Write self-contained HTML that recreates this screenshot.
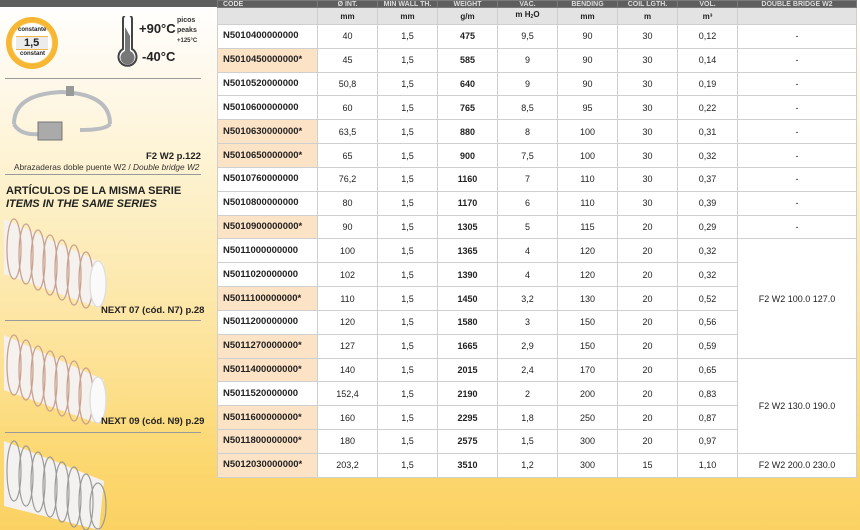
<!DOCTYPE html>
<html><head><meta charset="utf-8"><style>
*{margin:0;padding:0;box-sizing:border-box}
body{width:860px;height:530px;overflow:hidden;position:relative;font-family:"Liberation Sans",sans-serif;color:#222;
background:linear-gradient(180deg,#ffffff 0px,#fffaf0 60px,#fdf0c8 200px,#fde39a 350px,#fcd870 460px,#fbd163 530px)}
.topbar{position:absolute;left:0;top:0;width:217px;height:7px;background:#5e5e5e}
table{position:absolute;left:217px;top:0;border-collapse:collapse;table-layout:fixed;width:639px;background:#fff;font-size:9px}
td{border:1px solid #cfcfcf;text-align:center;padding:0;overflow:hidden;white-space:nowrap;line-height:10px}
tr.h td{height:7px;max-height:7px;background:#5e5e5e;color:#ddd;font-weight:bold;font-size:7px;line-height:5px;vertical-align:bottom;border-color:#7a7a7a}
tr.u td{height:17px;background:#e3e3e3;font-weight:bold;font-size:8px;line-height:9px}
tr.d td{height:23.84px}
td.c{text-align:left;padding-left:5px;font-weight:bold;font-size:9.5px}
td.p{background:#fde3c6}
td.b{font-weight:bold}
.sep{position:absolute;left:5px;width:196px;height:1px;background:#9a9a9a}
.t{position:absolute;white-space:nowrap}
</style></head><body>
<div class="topbar"></div>
<table>
<colgroup><col style="width:100px"><col style="width:60px"><col style="width:60px"><col style="width:60px"><col style="width:60px"><col style="width:60px"><col style="width:60px"><col style="width:60px"><col style="width:119px"></colgroup>
<tr class="h"><td style="text-align:left;padding-left:5px">CODE</td><td>Ø INT.</td><td>MIN WALL TH.</td><td>WEIGHT</td><td>VAC.</td><td>BENDING</td><td>COIL LGTH.</td><td>VOL.</td><td>DOUBLE BRIDGE W2</td></tr>
<tr class="u"><td></td><td>mm</td><td>mm</td><td>g/m</td><td>m H<span style="font-size:5px;vertical-align:-1px">2</span>O</td><td>mm</td><td>m</td><td>m³</td><td></td></tr>
<tr class="d"><td class="c">N5010400000000</td><td>40</td><td>1,5</td><td class="b">475</td><td>9,5</td><td>90</td><td>30</td><td>0,12</td><td>-</td></tr>
<tr class="d"><td class="c p">N5010450000000*</td><td>45</td><td>1,5</td><td class="b">585</td><td>9</td><td>90</td><td>30</td><td>0,14</td><td>-</td></tr>
<tr class="d"><td class="c">N5010520000000</td><td>50,8</td><td>1,5</td><td class="b">640</td><td>9</td><td>90</td><td>30</td><td>0,19</td><td>-</td></tr>
<tr class="d"><td class="c">N5010600000000</td><td>60</td><td>1,5</td><td class="b">765</td><td>8,5</td><td>95</td><td>30</td><td>0,22</td><td>-</td></tr>
<tr class="d"><td class="c p">N5010630000000*</td><td>63,5</td><td>1,5</td><td class="b">880</td><td>8</td><td>100</td><td>30</td><td>0,31</td><td>-</td></tr>
<tr class="d"><td class="c p">N5010650000000*</td><td>65</td><td>1,5</td><td class="b">900</td><td>7,5</td><td>100</td><td>30</td><td>0,32</td><td>-</td></tr>
<tr class="d"><td class="c">N5010760000000</td><td>76,2</td><td>1,5</td><td class="b">1160</td><td>7</td><td>110</td><td>30</td><td>0,37</td><td>-</td></tr>
<tr class="d"><td class="c">N5010800000000</td><td>80</td><td>1,5</td><td class="b">1170</td><td>6</td><td>110</td><td>30</td><td>0,39</td><td>-</td></tr>
<tr class="d"><td class="c p">N5010900000000*</td><td>90</td><td>1,5</td><td class="b">1305</td><td>5</td><td>115</td><td>20</td><td>0,29</td><td>-</td></tr>
<tr class="d"><td class="c">N5011000000000</td><td>100</td><td>1,5</td><td class="b">1365</td><td>4</td><td>120</td><td>20</td><td>0,32</td><td rowspan="5">F2 W2 100.0 127.0</td></tr>
<tr class="d"><td class="c">N5011020000000</td><td>102</td><td>1,5</td><td class="b">1390</td><td>4</td><td>120</td><td>20</td><td>0,32</td></tr>
<tr class="d"><td class="c p">N5011100000000*</td><td>110</td><td>1,5</td><td class="b">1450</td><td>3,2</td><td>130</td><td>20</td><td>0,52</td></tr>
<tr class="d"><td class="c">N5011200000000</td><td>120</td><td>1,5</td><td class="b">1580</td><td>3</td><td>150</td><td>20</td><td>0,56</td></tr>
<tr class="d"><td class="c p">N5011270000000*</td><td>127</td><td>1,5</td><td class="b">1665</td><td>2,9</td><td>150</td><td>20</td><td>0,59</td></tr>
<tr class="d"><td class="c p">N5011400000000*</td><td>140</td><td>1,5</td><td class="b">2015</td><td>2,4</td><td>170</td><td>20</td><td>0,65</td><td rowspan="4">F2 W2 130.0 190.0</td></tr>
<tr class="d"><td class="c">N5011520000000</td><td>152,4</td><td>1,5</td><td class="b">2190</td><td>2</td><td>200</td><td>20</td><td>0,83</td></tr>
<tr class="d"><td class="c p">N5011600000000*</td><td>160</td><td>1,5</td><td class="b">2295</td><td>1,8</td><td>250</td><td>20</td><td>0,87</td></tr>
<tr class="d"><td class="c p">N5011800000000*</td><td>180</td><td>1,5</td><td class="b">2575</td><td>1,5</td><td>300</td><td>20</td><td>0,97</td></tr>
<tr class="d"><td class="c p">N5012030000000*</td><td>203,2</td><td>1,5</td><td class="b">3510</td><td>1,2</td><td>300</td><td>15</td><td>1,10</td><td>F2 W2 200.0 230.0</td></tr>
</table>

<div style="position:absolute;left:6px;top:17px;width:52px;height:52px;border-radius:50%;background:#f8b733"></div>
<div style="position:absolute;left:11px;top:22px;width:42px;height:42px;border-radius:50%;background:#fff;border:1px solid #f5c65a"></div>
<div class="t" style="left:18px;top:27px;font-size:6px;font-weight:bold">constante</div>
<div style="position:absolute;left:16px;top:36px;width:32px;height:14px;background:#ececec;border-top:1px solid #f3b54a;border-bottom:1px solid #f3b54a"></div>
<div class="t" style="left:24px;top:37px;font-size:11px;font-weight:bold">1,5</div>
<div class="t" style="left:20px;top:51px;font-size:6px;font-weight:bold">constant</div>
<svg style="position:absolute;left:115px;top:16px" width="25" height="56"><path d="M8 3 a4.5 4.5 0 0 1 9 0 V33 a9 9 0 1 1 -9 0 Z" fill="#fff" stroke="#444" stroke-width="2"/><path d="M10 11 V35 a7 7 0 1 0 5 0 V20 Z" fill="#777"/></svg>
<div class="t" style="left:139px;top:21px;font-size:13px;font-weight:bold">+90°C</div>
<div class="t" style="left:142px;top:49px;font-size:13px;font-weight:bold">-40°C</div>
<div class="t" style="left:177px;top:16px;font-size:7px;font-weight:bold;line-height:10px;color:#333">picos<br>peaks<br><span style="font-size:6px">+125°C</span></div>
<div class="sep" style="top:78px"></div>
<svg style="position:absolute;left:10px;top:84px" width="105" height="62"><path d="M4 40 Q4 10 52 8 Q100 10 100 40" fill="none" stroke="#b9bcc0" stroke-width="4"/><path d="M4 40 Q10 52 32 50 M70 46 Q96 46 100 40" fill="none" stroke="#b9bcc0" stroke-width="4"/><rect x="28" y="38" width="24" height="18" fill="#aaa" stroke="#777"/><rect x="56" y="2" width="8" height="10" fill="#999"/></svg>
<div class="t" style="left:146px;top:151px;font-size:9.5px;font-weight:bold">F2 W2 p.122</div>
<div class="t" style="left:14px;top:162px;font-size:8.3px;color:#333">Abrazaderas doble puente W2 / <i>Double bridge W2</i></div>
<div class="sep" style="top:174px"></div>
<div class="t" style="left:6px;top:185px;font-size:11px;font-weight:bold">ARTÍCULOS DE LA MISMA SERIE</div>
<div class="t" style="left:6px;top:198px;font-size:11px;font-weight:bold;font-style:italic">ITEMS IN THE SAME SERIES</div>
<svg style="position:absolute;left:4px;top:214px" width="110" height="96"><path d="M0 5 L100 50 L90 92 L0 60 Z" fill="#f4f1ee"/><g fill="none" stroke="#c9a18f" stroke-width="1.3"><ellipse cx="10" cy="35" rx="7" ry="30"/><ellipse cx="22" cy="40" rx="7" ry="30"/><ellipse cx="34" cy="46" rx="7" ry="30"/><ellipse cx="46" cy="51" rx="7" ry="30"/><ellipse cx="58" cy="56" rx="7" ry="30"/><ellipse cx="70" cy="61" rx="7" ry="30"/><ellipse cx="82" cy="66" rx="7" ry="28"/><ellipse cx="94" cy="70" rx="8" ry="23" stroke="#ddd" fill="#fafafa"/></g></svg>
<div class="t" style="left:101px;top:305px;font-size:9.5px;font-weight:bold">NEXT 07 (cód. N7) p.28</div>
<div class="sep" style="top:320px"></div>
<svg style="position:absolute;left:4px;top:330px" width="110" height="96"><path d="M0 5 L100 50 L90 92 L0 60 Z" fill="#f4f1ee"/><g fill="none" stroke="#c9a18f" stroke-width="1.3"><ellipse cx="10" cy="35" rx="7" ry="30"/><ellipse cx="22" cy="40" rx="7" ry="30"/><ellipse cx="34" cy="46" rx="7" ry="30"/><ellipse cx="46" cy="51" rx="7" ry="30"/><ellipse cx="58" cy="56" rx="7" ry="30"/><ellipse cx="70" cy="61" rx="7" ry="30"/><ellipse cx="82" cy="66" rx="7" ry="28"/><ellipse cx="94" cy="70" rx="8" ry="23" stroke="#ddd" fill="#fafafa"/></g></svg>
<div class="t" style="left:101px;top:416px;font-size:9.5px;font-weight:bold">NEXT 09 (cód. N9) p.29</div>
<div class="sep" style="top:432px"></div>
<svg style="position:absolute;left:4px;top:436px" width="110" height="94"><path d="M0 5 L100 45 L95 94 L0 70 Z" fill="#f4f2f0"/><g fill="none" stroke="#9a9a9a" stroke-width="1.2"><ellipse cx="10" cy="35" rx="7" ry="30"/><ellipse cx="22" cy="40" rx="7" ry="30"/><ellipse cx="34" cy="46" rx="7" ry="30"/><ellipse cx="46" cy="51" rx="7" ry="30"/><ellipse cx="58" cy="56" rx="7" ry="30"/><ellipse cx="70" cy="61" rx="7" ry="30"/><ellipse cx="82" cy="66" rx="7" ry="28"/><ellipse cx="94" cy="70" rx="8" ry="23"/></g></svg>
</body></html>
